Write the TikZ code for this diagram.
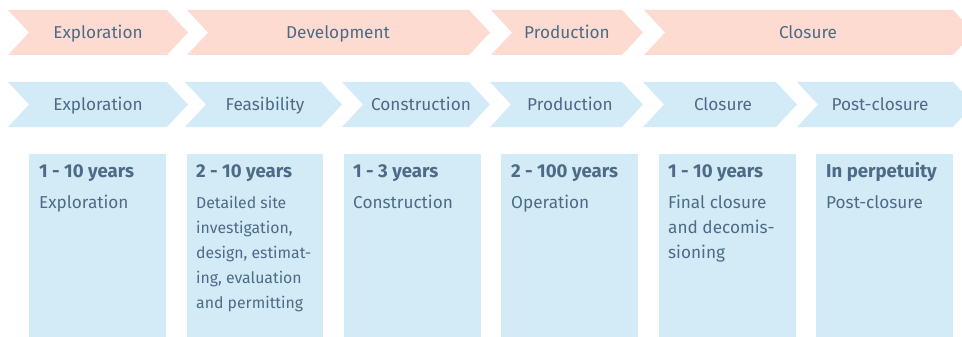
\documentclass[tikz,border=0pt]{standalone}
\usepackage{fontspec}
\setmainfont{Fira Sans}
\definecolor{pinkc}{HTML}{FDDBD1}
\definecolor{bluec}{HTML}{D3EBF7}
\definecolor{txtc}{HTML}{4D6B86}
\newcommand{\chev}[5]{% left, point, top, bottom, colour
  \fill[#5] (#1,#3) -- ({#2-21},#3) -- (#2,{(#3+#4)/2}) -- ({#2-21},#4) -- (#1,#4) -- ({#1+21},{(#3+#4)/2}) -- cycle;
}
\newcommand{\lines}[1]{\begin{tabular}[t]{@{}l@{}}#1\end{tabular}}
\tikzset{
  lbl/.style={font=\fontsize{17.2}{20}\selectfont, text=txtc, inner sep=0pt, anchor=base},
  head/.style={font=\fontsize{18.6}{20}\selectfont\bfseries, text=txtc, inner sep=0pt, anchor=base west},
  body/.style={font=\fontsize{17.2}{25}\selectfont, text=txtc, inner sep=0pt, anchor=base west},
  bodysm/.style={font=\fontsize{15.8}{25}\selectfont, text=txtc, inner sep=0pt, anchor=base west},
  card/.style={fill=bluec, draw=none}
}
\begin{document}
\begin{tikzpicture}[x=1pt,y=-1pt]
\useasboundingbox (0,0) rectangle (962,337);
\clip (0,0) rectangle (962,337);
% pink row
\chev{8}{188}{10}{55}{pinkc}
\chev{187}{490}{10}{55}{pinkc}
\chev{491}{643}{10}{55}{pinkc}
\chev{644}{974}{10}{55}{pinkc}
\node[lbl] (p1) at (98,38.5) {Exploration};
\node[lbl] (p2) at (338,38.5) {Development};
\node[lbl] (p3) at (567,38.5) {Production};
\node[lbl] (p4) at (808,38.5) {Closure};
% blue row
\chev{8}{188}{82}{127}{bluec}
\chev{185}{342}{82}{127}{bluec}
\chev{342}{490}{82}{127}{bluec}
\chev{490}{643}{82}{127}{bluec}
\chev{643}{797}{82}{127}{bluec}
\chev{797}{974}{82}{127}{bluec}
\node[lbl] (b1) at (98,110.5) {Exploration};
\node[lbl] (b2) at (265,110.5) {Feasibility};
\node[lbl] (b3) at (421,110.5) {Construction};
\node[lbl] (b4) at (570,110.5) {Production};
\node[lbl] (b5) at (723,110.5) {Closure};
\node[lbl] (b6) at (880,110.5) {Post-closure};
% cards
\fill[card] (29,154) rectangle (166,337);
\fill[card] (187,154) rectangle (323,337);
\fill[card] (344,154) rectangle (481,337);
\fill[card] (501,154) rectangle (638,337);
\fill[card] (659,154) rectangle (796,337);
\fill[card] (816,154) rectangle (953,337);
\node[head] (h1) at (39,177) {1 - 10 years};
\node[head] (h2) at (196,177) {2 - 10 years};
\node[head] (h3) at (353,177) {1 - 3 years};
\node[head] (h4) at (511,177) {2 - 100 years};
\node[head] (h5) at (668,177) {1 - 10 years};
\node[head] (h6) at (826,177) {In perpetuity};
\node[body] (t1) at (39,208) {Exploration};
\node[bodysm] (t2) at (196,208) {\lines{Detailed site\\investigation,\\design, estimat-\\ing, evaluation\\and permitting}};
\node[body] (t3) at (353,208) {Construction};
\node[body] (t4) at (511,208) {Operation};
\node[body] (t5) at (668,208) {\lines{Final closure\\and decomis-\\sioning}};
\node[body] (t6) at (826,208) {Post-closure};
\end{tikzpicture}
\end{document}
